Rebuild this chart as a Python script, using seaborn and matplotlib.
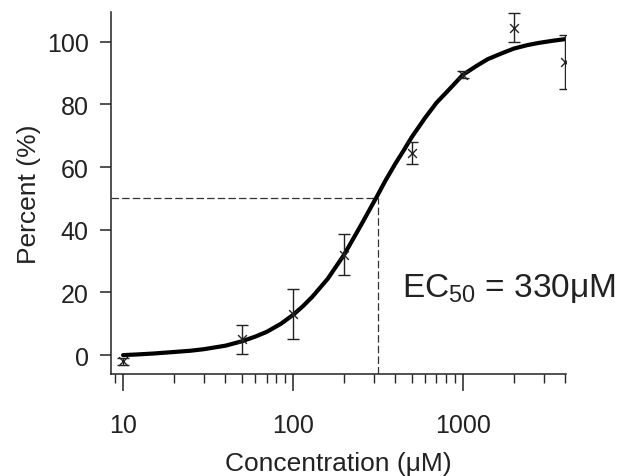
import numpy as np
import pandas as pd
import matplotlib
matplotlib.use('Agg')
import matplotlib.pyplot as plt
import seaborn as sns
from matplotlib.ticker import LogLocator, NullFormatter, FixedLocator


# measured points (concentration in uM, percent, error)
conc = [10, 50, 100, 200, 500, 1000, 2000, 4000]
percent = [-2, 5, 13, 32, 64.5, 89.5, 104.5, 93.5]
err = [1, 4.5, 8, 6.5, 3.5, 1, 4.5, 8.5]

# fitted dose-response curve
fit_conc = [10, 12, 15, 20, 25, 30, 40, 50, 60, 70, 85, 100, 115, 130, 160,
            200, 250, 280, 315, 350, 400, 450, 500, 600, 700, 850, 1000, 1200,
            1400, 1700, 2000, 2400, 2800, 3400, 4000]
fit_percent = [0.0, 0.2, 0.5, 1.0, 1.4, 1.9, 3.0, 4.4, 5.9, 7.4, 10.0, 12.8,
               15.7, 18.6, 24.3, 32.0, 41.2, 46.0, 51.0, 55.6, 61.0, 65.4,
               69.5, 75.7, 80.5, 85.3, 89.4, 92.2, 94.4, 96.3, 97.8, 98.9,
               99.6, 100.3, 100.8]

ec50 = 315
half = 50
ytick_vals = [0, 20, 40, 60, 80, 100]
xtick_vals = [10, 100, 1000]

sns.set_style('ticks')
plt.rcParams['font.family'] = ['Liberation Sans', 'DejaVu Sans']
plt.rcParams['mathtext.default'] = 'regular'

fig = plt.figure(figsize=(6.24, 4.77), dpi=100)
ax = fig.add_axes([0.178, 0.214, 0.729, 0.759])

fit_df = pd.DataFrame({'conc': fit_conc, 'percent': fit_percent})
sns.lineplot(data=fit_df, x='conc', y='percent', ax=ax, color='black',
             linewidth=3.0, zorder=3)

ax.errorbar(conc, percent, yerr=err, fmt='none', ecolor='#222222',
            elinewidth=1.0, capsize=4, capthick=1.0, zorder=4)
pts = pd.DataFrame({'conc': conc, 'percent': percent})
sns.scatterplot(data=pts, x='conc', y='percent', ax=ax, marker='x', s=40,
                color='#222222', linewidth=1.0, zorder=5)

# EC50 guide lines
ax.plot([8.5, ec50], [half, half], color='#333333', lw=0.9, ls=(0, (6, 2.5)))
ax.plot([ec50, ec50], [-6, half], color='#333333', lw=0.9, ls=(0, (6, 2.5)))

ax.set_xscale('log')
ax.set_xlim(8.5, 4050)
ax.set_ylim(-6, 109.5)

ax.xaxis.set_major_locator(FixedLocator(xtick_vals))
ax.set_xticklabels([str(v) for v in xtick_vals])
ax.xaxis.set_minor_locator(LogLocator(base=10, subs=np.arange(2, 10)))
ax.xaxis.set_minor_formatter(NullFormatter())
ax.set_yticks(ytick_vals)

ax.tick_params(axis='x', which='major', length=12, width=1.1, pad=16,
               labelsize=18, colors='#222222')
ax.tick_params(axis='x', which='minor', length=6.5, width=1.0)
ax.tick_params(axis='y', which='major', length=8, width=1.1, pad=8,
               labelsize=18, colors='#222222')

for side in ['top', 'right']:
    ax.spines[side].set_visible(False)
for side in ['left', 'bottom']:
    ax.spines[side].set_linewidth(1.1)
    ax.spines[side].set_color('#222222')

ax.set_xlabel('Concentration (μM)', fontsize=19, color='#222222', labelpad=10)
ax.set_ylabel('Percent (%)', fontsize=19, color='#222222', labelpad=4)

ax.text(437, 18.8, 'EC$_{50}$ = 330μM', fontsize=24, color='#222222',
        ha='left', va='baseline')

fig.savefig('out.png', dpi=100, facecolor='white')
